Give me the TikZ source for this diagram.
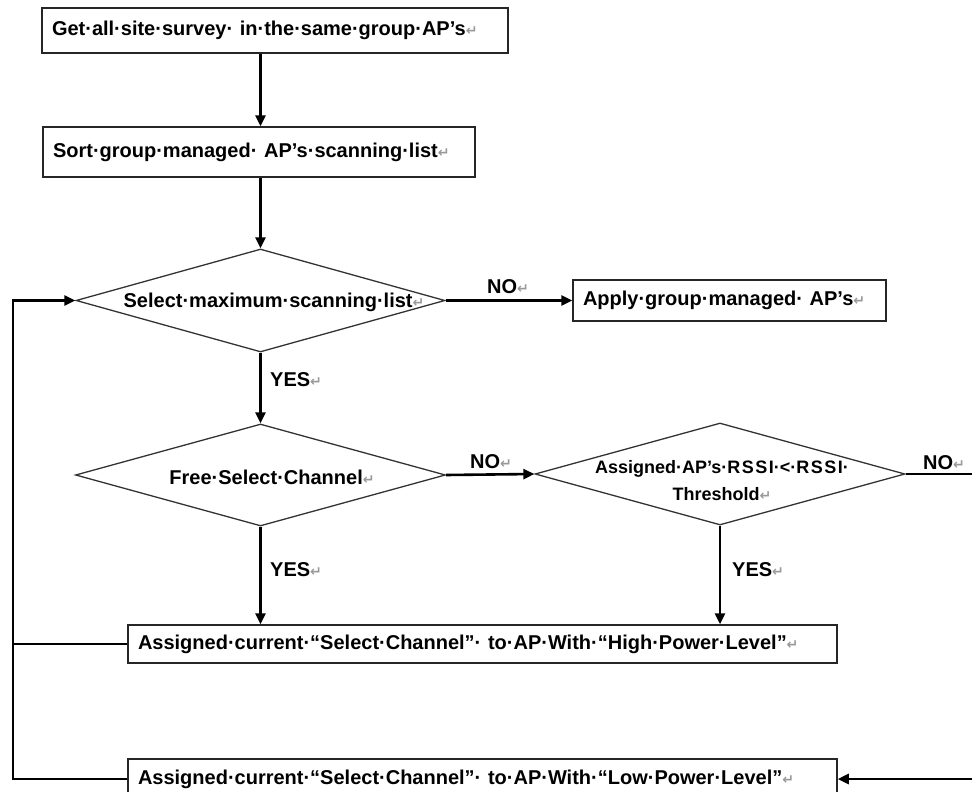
\documentclass[tikz,border=0pt]{standalone}
\usepackage{fontspec}
\setmainfont{Liberation Sans}
\newfontfamily\djv{DejaVu Sans}
\usetikzlibrary{shapes.geometric,arrows.meta}
\newcommand\rtn{{\color{black!40}\djv\fontsize{14}{14}\selectfont ↵}}
\begin{document}
\begin{tikzpicture}[x=1pt,y=-1pt,
  font=\bfseries\fontsize{20}{24}\selectfont,
  box/.style={draw=black!85, line width=1.5pt, inner xsep=10pt, inner ysep=0pt, align=left},
  dia/.style={draw=black!80, line width=1.3pt, diamond, inner sep=0pt},
  conn/.style={line width=2.6pt, -{Triangle[length=11pt,width=10pt]}},
  plain/.style={line width=2.6pt},
  lab/.style={inner sep=0pt, anchor=base west}]
\useasboundingbox (0,0) rectangle (972,792);

% boxes
\node[box, text width=446pt, minimum height=45pt] (b1) at (275,30.5)
  {Get·all·site·survey· in·the·same·group·AP’s\rtn};
\node[box, text width=412pt, minimum height=50pt] (b2) at (259,152)
  {Sort·group·managed· AP’s·scanning·list\rtn};
\node[box, text width=293pt, minimum height=41pt] (ap) at (729.5,300.5)
  {Apply·group·managed· AP’s\rtn};
\node[box, text width=689pt, minimum height=38pt] (hi) at (482.5,644)
  {Assigned·current·“Select·Channel”· to·AP·With·“High·Power·Level”\rtn};
\node[box, text width=689pt, minimum height=40pt] (lo) at (482.5,779)
  {Assigned·current·“Select·Channel”· to·AP·With·“Low·Power·Level”\rtn};

% decisions
\node[dia, minimum width=369pt, minimum height=103pt] (d1) at (260.5,300.5) {};
\node[dia, minimum width=370pt, minimum height=102pt] (d2) at (260.5,475) {};
\node[dia, minimum width=370pt, minimum height=102pt] (d3) at (720,474) {};
\node[inner sep=0pt] (t1) at (274,302) {Select·maximum·scanning·list\rtn};
\node[inner sep=0pt] (t2) at (272,477) {Free·Select·Channel\rtn};
\node[inner sep=0pt, align=center, font=\bfseries\fontsize{18}{27}\selectfont] (t3) at (722,481)
  {Assigned·AP’s·R\kern1.5pt S\kern1.5pt S\kern1.5pt I·<·R\kern1.5pt S\kern1.5pt S\kern1.5pt I·\\Threshold\rtn};

\coordinate (lx) at (13,300.5);
\coordinate (rx) at (976,0);

% connectors
\draw[conn] (b1.south -| d1.north) -- (b2.north -| d1.north);
\draw[conn] (b2.south -| d1.north) -- (d1.north);
\draw[conn] (d1.east) -- (ap.west);
\draw[conn] (d1.south) -- (d2.north);
\draw[conn] (d2.east) -- (d3.west);
\draw[conn] (d2.south) -- (d2.south |- hi.north);
\draw[conn] (d3.south) -- (d3.south |- hi.north);
\draw[plain] (hi.west) -- (hi.west -| lx);
\draw[conn, line join=miter] (lo.west) -| (lx) -- (d1.west);
\draw[conn, line join=miter] (d3.east) -- (d3.east -| rx) |- (lo.east);

% labels
\node[lab] (no1) at (487,293) {NO\rtn};
\node[lab] (no2) at (470,468) {NO\rtn};
\node[lab] (no3) at (923,469) {NO\rtn};
\node[lab] (yes1) at (270,386) {YES\rtn};
\node[lab] (yes2) at (270,576) {YES\rtn};
\node[lab] (yes3) at (732,576) {YES\rtn};
\end{tikzpicture}
\end{document}
